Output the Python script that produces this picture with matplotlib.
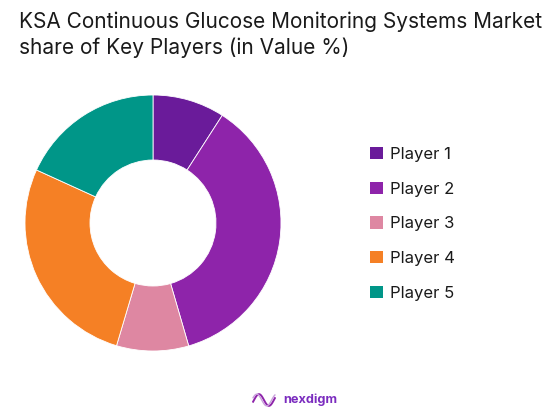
import numpy as np
import matplotlib.pyplot as plt
from matplotlib.patches import Patch

players = ['Player 1', 'Player 2', 'Player 3', 'Player 4', 'Player 5']
shares = [9.1, 36.4, 9.1, 27.2, 18.2]
colors = ['#6A1B9A', '#8E24AA', '#DE87A2', '#F58025', '#009688']

title = 'KSA Continuous Glucose Monitoring Systems Market\nshare of Key Players (in Value %)'

fig = plt.figure(figsize=(5.59, 4.2), dpi=100)
fig.patch.set_facecolor('white')

# donut
ax = fig.add_axes([(153-130)/559, 1-(223+130)/420, 260/559, 260/420])
ax.pie(shares, colors=colors, startangle=90, counterclock=False,
       wedgeprops=dict(width=0.5, edgecolor='white', linewidth=0.6),
       radius=128/130)
ax.set_xlim(-1, 1)
ax.set_ylim(-1, 1)
ax.set_aspect('equal')
ax.axis('off')

# title
fig.text(19/559, 1-12/420, title, ha='left', va='top', fontsize=15,
         family='Inter', color='#1a1a1a', linespacing=1.3)

# legend
handles = [Patch(facecolor=c, edgecolor='none') for c in colors]
leg = fig.legend(handles, players, loc='upper left',
                 bbox_to_anchor=(355/559, 1-132/420), frameon=False,
                 handlelength=0.75, handleheight=0.75,
                 handletextpad=0.45, labelspacing=1.18,
                 prop=dict(family='Inter', size=12))
for t in leg.get_texts():
    t.set_color('#1a1a1a')

# logo
lax = fig.add_axes([252/559, 1-410/420, 24/559, 20/420])
tt = np.linspace(0, 1, 100)
lax.plot(tt, np.sin(tt*np.pi*2.2 - 0.3)*0.35, color='#8E24AA', lw=1.4)
lax.plot(tt, np.sin(tt*np.pi*2.2 + 0.4)*0.35, color='#C9A0DC', lw=1.0)
lax.set_xlim(-0.05, 1.05)
lax.set_ylim(-0.6, 0.6)
lax.axis('off')
fig.text(283/559, 1-400/420, 'nexdigm', ha='left', va='center', fontsize=9.2,
         family='Inter', weight='bold', color='#7B2CBF')

fig.savefig('out.png', dpi=100)
